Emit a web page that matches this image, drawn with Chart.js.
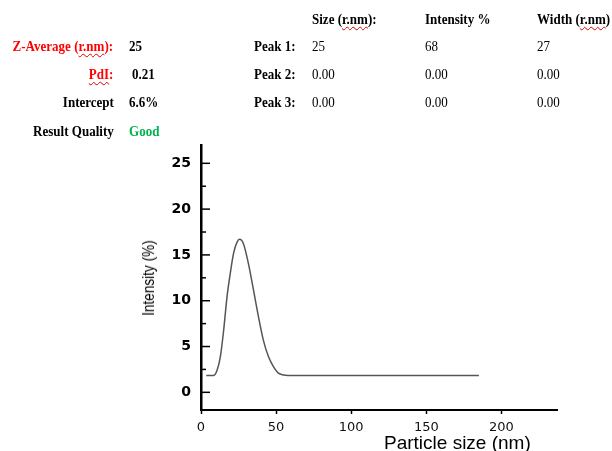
<!DOCTYPE html>
<html>
<head>
<meta charset="utf-8">
<script src="https://cdn.jsdelivr.net/npm/chart.js@4/dist/chart.umd.min.js"></script>
<style>
  html, body { margin: 0; padding: 0; background: #fff; }
  body { width: 612px; height: 451px; position: relative; overflow: hidden; }
  #sizeChart { position: absolute; left: 0; top: 0; }
  .cell {
    position: absolute; height: 18px; line-height: 18px; white-space: nowrap;
    font-family: "Liberation Serif", "Times New Roman", serif; font-size: 14px; color: #000;
    transform: scaleX(0.93); transform-origin: left center;
  }
  .cell.right { transform-origin: right center; text-align: right; }
  .b { font-weight: bold; }
  .red { color: #ff0000; }
  .green { color: #00b050; }
  .wavy { text-decoration: underline wavy #e00000; text-decoration-thickness: 1px; text-underline-offset: 2px; }
  .axis-title { position: absolute; white-space: nowrap; color: #000; }
  #xTitle { left: 384px; top: 432px; font-family: "Liberation Sans", Arial, sans-serif; font-size: 19px; }
  #yTitle {
    left: 149px; top: 278px; font-family: "Liberation Sans", sans-serif;
    font-size: 17px; transform: translate(-50%, -50%) rotate(-90deg) scaleX(0.8);
  }
</style>
</head>
<body>
<canvas id="sizeChart" width="612" height="451"></canvas>
<div id="header"></div>
<div class="axis-title" id="xTitle">Particle size (nm)</div>
<div class="axis-title" id="yTitle">Intensity (%)</div>
<script>
// size distribution curve
const sizes = [3.5, 8.4, 10.7, 12.9, 15.1, 17.3, 19.5, 21.7, 24, 25.7, 28.3, 31.5, 34.9, 38.2, 41.5, 44.9, 48.2, 51.5, 54.9, 58, 185];
const intensities = [1.85, 1.85, 2.4, 3.9, 6.8, 10.4, 13.0, 15.2, 16.4, 16.7, 16.2, 14.1, 11.2, 8.3, 5.7, 3.9, 2.8, 2.1, 1.9, 1.85, 1.85];
const xTicks = [0, 50, 100, 150, 200];
const yTicks = [0, 5, 10, 15, 20, 25];

// results table
const peakNames = ["Peak 1:", "Peak 2:", "Peak 3:"];
const peakSizes = ["25", "0.00", "0.00"];
const peakIntensity = ["68", "0.00", "0.00"];
const peakWidths = ["27", "0.00", "0.00"];
const zAverage = "25";
const pdi = "0.21";
const intercept = "6.6%";
const quality = "Good";

(function() {
  const header = document.getElementById("header");
  const rowY = [20, 47, 75, 103, 132];
  function cell(html, x, row, cls) {
    const d = document.createElement("div");
    d.className = "cell " + (cls || "");
    d.innerHTML = html;
    if ((cls || "").indexOf("right") >= 0) d.style.right = (612 - x) + "px";
    else d.style.left = x + "px";
    d.style.top = (rowY[row] - 9) + "px";
    header.appendChild(d);
  }
  cell('Size (<span class="wavy">r.nm</span>):', 311.5, 0, "b");
  cell("Intensity %", 424.5, 0, "b");
  cell('Width (<span class="wavy">r.nm</span>)', 536.7, 0, "b");

  cell('Z-Average (<span class="wavy">r.nm</span>):', 113.5, 1, "b red right");
  cell(zAverage, 128.5, 1, "b");
  cell('<span class="wavy">PdI</span>:', 113.5, 2, "b red right");
  cell(pdi, 132.3, 2, "b");
  cell("Intercept", 113.7, 3, "b right");
  cell(intercept, 128.5, 3, "b");
  cell("Result Quality", 113.5, 4, "b right");
  cell(quality, 128.5, 4, "b green");

  peakNames.forEach(function(name, i) {
    cell(name, 254, i + 1, "b");
    cell(peakSizes[i], 311.5, i + 1);
    cell(peakIntensity[i], 424.5, i + 1);
    cell(peakWidths[i], 536.7, i + 1);
  });
})();

// inward ticks on the y axis, with minor ticks halfway
const innerTicks = {
  id: "innerTicks",
  afterDraw(chart) {
    const y = chart.scales.y;
    const ctx = chart.ctx;
    const left = chart.chartArea.left;
    ctx.save();
    ctx.strokeStyle = "#000";
    ctx.lineWidth = 1.5;
    yTicks.forEach(function(v) {
      const py = y.getPixelForValue(v);
      ctx.beginPath();
      ctx.moveTo(left, py);
      ctx.lineTo(left + 9, py);
      ctx.stroke();
      const m = v + 2.5;
      if (m < y.max) {
        const pm = y.getPixelForValue(m);
        ctx.beginPath();
        ctx.moveTo(left, pm);
        ctx.lineTo(left + 5, pm);
        ctx.stroke();
      }
    });
    ctx.restore();
  }
};

(function() {
  const ctx = document.getElementById("sizeChart").getContext("2d");
  new Chart(ctx, {
    type: "line",
    data: {
      datasets: [
        {
          data: sizes.map(function(s, i) { return { x: s, y: intensities[i] }; }),
          borderColor: "#555",
          borderWidth: 1.5,
          pointRadius: 0,
          cubicInterpolationMode: "monotone",
          fill: false
        }
      ]
    },
    options: {
      responsive: false,
      animation: false,
      layout: { padding: { top: 145, right: 55, left: 0, bottom: 0 } },
      plugins: { legend: { display: false }, tooltip: { enabled: false } },
      scales: {
        x: {
          type: "linear",
          min: 0,
          max: 237,
          afterBuildTicks: function(axis) { axis.ticks = xTicks.map(function(v) { return { value: v }; }); },
          afterFit: function(axis) { axis.height = 41; },
          grid: { drawOnChartArea: false, drawTicks: true, tickLength: 4, tickColor: "#000", tickWidth: 1.5 },
          border: { display: true, color: "#000", width: 2 },
          ticks: {
            color: "#111",
            padding: 6,
            maxRotation: 0,
            font: { family: "'DejaVu Sans', sans-serif", size: 13 }
          }
        },
        y: {
          min: -1.93,
          max: 27,
          afterBuildTicks: function(axis) { axis.ticks = yTicks.map(function(v) { return { value: v }; }); },
          afterFit: function(axis) { axis.width = 201; },
          grid: { drawOnChartArea: false, drawTicks: false },
          border: { display: true, color: "#000", width: 2.5 },
          ticks: {
            color: "#000",
            padding: 10,
            font: { family: "'DejaVu Sans', sans-serif", size: 14, weight: "bold" }
          }
        }
      }
    },
    plugins: [innerTicks]
  });
})();
</script>
</body>
</html>
